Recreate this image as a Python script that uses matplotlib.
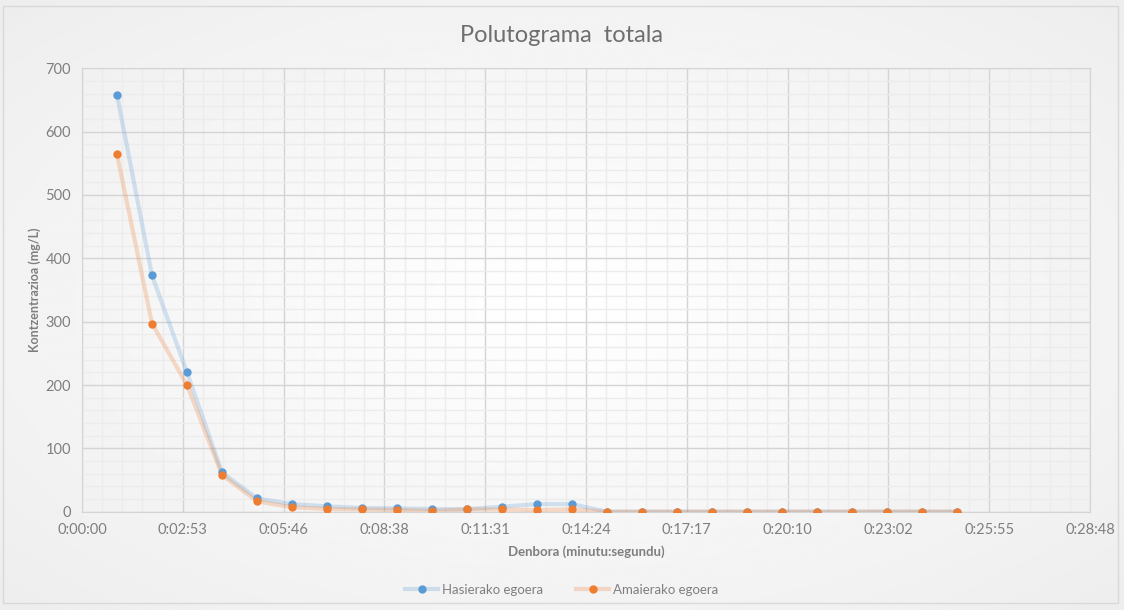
import numpy as np
import matplotlib
matplotlib.use("Agg")
import matplotlib.pyplot as plt
from matplotlib.ticker import MultipleLocator, FuncFormatter
from matplotlib.patches import Rectangle

plt.rcParams["font.family"] = ["Lato", "DejaVu Sans"]

# time in minutes since start, concentrations in mg/L
minutes = list(range(1, 26))
hasierako = [658, 373, 220, 62, 21, 12, 8.5, 6, 5.3, 4.2, 4, 8, 12, 12,
             0, 0, 0, 0, 0, 0, 0, 0, 0, 0, 0]
amaierako = [564, 297, 200, 58, 16.5, 7, 4.3, 3.5, 2.7, 1.1, 3.6, 3.6, 2.6, 3.7,
             0, 0, 0, 0, 0, 0, 0, 0, 0, 0, 0]

secs = np.array(minutes) * 60

grey = "#595959"
tick_grey = "#7f7f7f"
blue = "#5b9bd5"
orange = "#ed7d31"

fig = plt.figure(figsize=(11.24, 6.10), dpi=100)

# soft radial background like the spreadsheet chart
bg = fig.add_axes([0, 0, 1, 1], zorder=-5)
yy, xx = np.mgrid[-1:1:300j, -1:1:600j]
r = np.sqrt(xx ** 2 + yy ** 2) / np.sqrt(2)
bg.imshow(1 - 0.07 * r, cmap="gray", vmin=0, vmax=1, extent=[0, 1, 0, 1],
          aspect="auto")
bg.set_xlim(0, 1)
bg.set_ylim(0, 1)
bg.axis("off")
bg.add_patch(Rectangle((3 / 1124, 7 / 610), 1115 / 1124, 597 / 610,
                       fill=False, edgecolor="#d9d9d9", lw=1))

ax = fig.add_axes([82 / 1124, 1 - 511.7 / 610, 1008 / 1124, 443.4 / 610])
ax.set_facecolor("none")

ax.plot(secs, hasierako, color=blue, alpha=0.25, lw=3, solid_joinstyle="round", zorder=3)
ax.plot(secs, amaierako, color=orange, alpha=0.25, lw=3, solid_joinstyle="round", zorder=3)
ax.plot(secs, hasierako, "o", color=blue, ms=5, zorder=4)
ax.plot(secs, amaierako, "o", color=orange, ms=5, zorder=5)

ax.set_xlim(0, 1728)
ax.set_ylim(0, 700)
ax.xaxis.set_major_locator(MultipleLocator(172.8))
ax.xaxis.set_minor_locator(MultipleLocator(172.8 / 5))
ax.yaxis.set_major_locator(MultipleLocator(100))
ax.yaxis.set_minor_locator(MultipleLocator(20))


def hms(v, pos):
    s = int(round(v))
    return "%d:%02d:%02d" % (s // 3600, (s % 3600) // 60, s % 60)


ax.xaxis.set_major_formatter(FuncFormatter(hms))
ax.grid(which="major", color="#d4d4d4", lw=1)
ax.grid(which="minor", color="#ececec", lw=1)
ax.set_axisbelow(True)
for s in ax.spines.values():
    s.set_color("#d4d4d4")
ax.tick_params(which="both", length=0, colors=tick_grey, labelsize=10.5, pad=8)

ax.set_xlabel("Denbora (minutu:segundu)", color=tick_grey, fontsize=9.5,
              fontweight="bold", labelpad=6)
ax.set_ylabel("Kontzentrazioa (mg/L)", color=tick_grey, fontsize=9,
              fontweight="bold", labelpad=3)
fig.text(0.5, 1 - 36 / 610, "Polutograma  totala", ha="center", va="center",
         color="#6e6e6e", fontsize=17, fontweight="normal")

lb = ax.plot([], [], color=blue, alpha=0.25, lw=3)[0]
lo = ax.plot([], [], color=orange, alpha=0.25, lw=3)[0]
mb = ax.plot([], [], "o", color=blue, ms=5)[0]
mo = ax.plot([], [], "o", color=orange, ms=5)[0]
fig.legend([(lb, mb), (lo, mo)], ["Hasierako egoera", "Amaierako egoera"],
           loc="center", bbox_to_anchor=(0.5, 1 - 590 / 610), ncol=2,
           frameon=False, fontsize=9.5, labelcolor=tick_grey, handlelength=2.5,
           columnspacing=2.5, handletextpad=0.3)

fig.savefig("out.png", dpi=100)
